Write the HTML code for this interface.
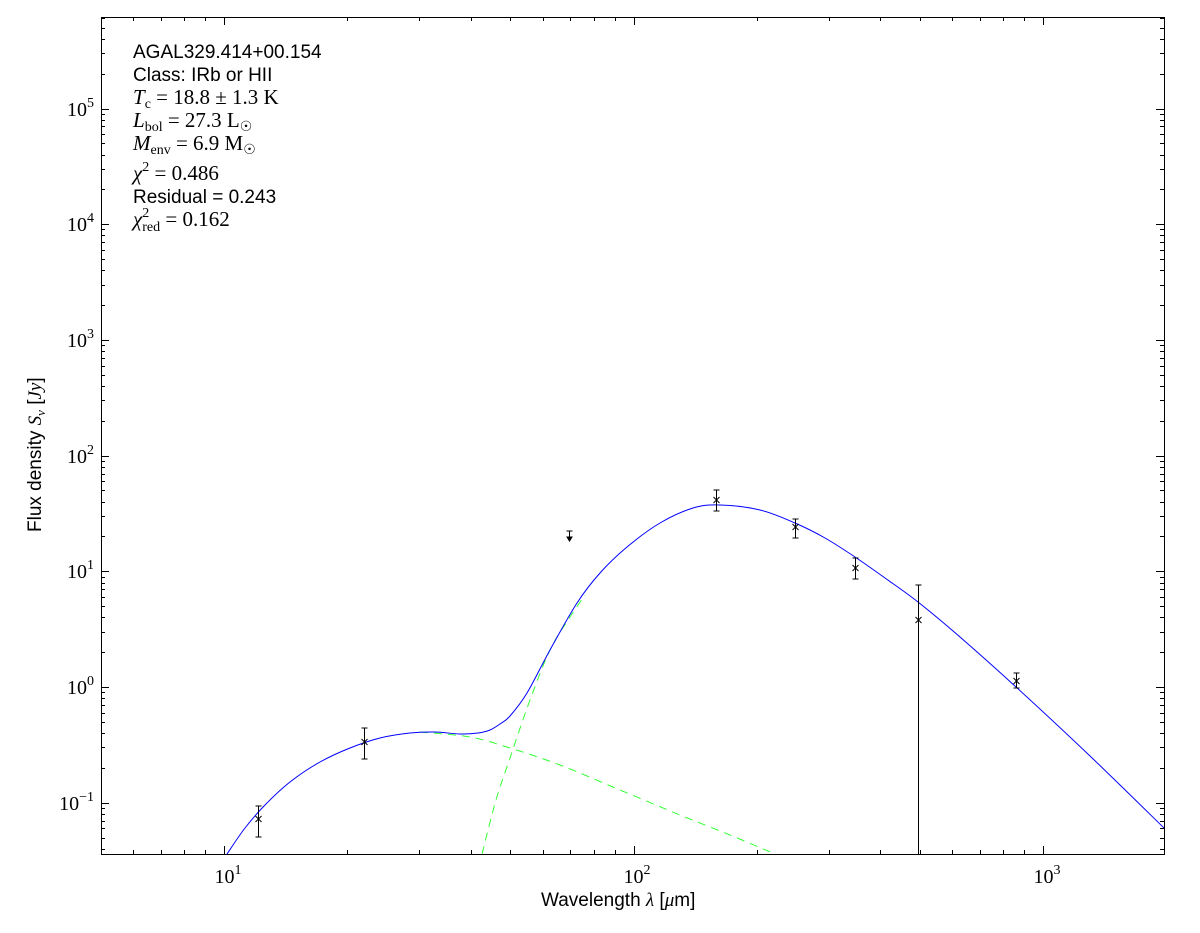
<!DOCTYPE html>
<html><head><style>body{margin:0;background:#fff}svg{display:block}</style></head>
<body>
<svg id="s" width="1200" height="933" xmlns="http://www.w3.org/2000/svg" font-family="Liberation Serif, serif">
<rect width="1200" height="933" fill="#fff"/>
<g id="ticks" stroke="#000" stroke-width="1"></g>
<g font-size="20" fill="#000" text-anchor="end">
<text x="94" y="116">10<tspan font-size="14" dy="-9">5</tspan></text>
<text x="94" y="231">10<tspan font-size="14" dy="-9">4</tspan></text>
<text x="94" y="347">10<tspan font-size="14" dy="-9">3</tspan></text>
<text x="94" y="463">10<tspan font-size="14" dy="-9">2</tspan></text>
<text x="94" y="578">10<tspan font-size="14" dy="-9">1</tspan></text>
<text x="94" y="694">10<tspan font-size="14" dy="-9">0</tspan></text>
<text x="94" y="810">10<tspan font-size="14" dy="-9">−1</tspan></text>
</g>
<g font-size="20" fill="#000" text-anchor="middle">
<text x="228" y="883">10<tspan font-size="14" dy="-9">1</tspan></text>
<text x="637" y="883">10<tspan font-size="14" dy="-9">2</tspan></text>
<text x="1047" y="883">10<tspan font-size="14" dy="-9">3</tspan></text>
</g>
<path id="g1" fill="none" stroke="#00ff00" stroke-opacity="0.8" stroke-dasharray="8,6" stroke-width="1"/>
<path id="g2" fill="none" stroke="#00ff00" stroke-opacity="0.8" stroke-dasharray="8,6" stroke-width="1"/>
<path id="b" fill="none" stroke="#0000ff" stroke-width="1"/>
<g stroke="#000" stroke-width="1" fill="none" id="data"></g>
<rect x="101.5" y="17.5" width="1063" height="837" fill="none" stroke="#000" stroke-width="1"/>
<g font-family="Liberation Sans, sans-serif" font-size="19" fill="#000">
<text x="133" y="58">AGAL329.414+00.154</text>
<text x="133" y="81">Class: IRb or HII</text>
<text x="133" y="203">Residual = 0.243</text>
<text x="541" y="906">Wavelength <tspan font-family="Liberation Serif, serif" font-style="italic">λ</tspan> [<tspan font-family="Liberation Serif, serif" font-style="italic">μ</tspan>m]</text>
<text transform="translate(41,532) rotate(-90)">Flux density <tspan font-family="Liberation Serif, serif" font-style="italic">S</tspan><tspan font-family="Liberation Serif, serif" font-style="italic" font-size="13" dy="4">ν</tspan><tspan dy="-4"> [</tspan><tspan font-family="Liberation Serif, serif" font-style="italic">Jy</tspan>]</text>
</g>
<g font-family="Liberation Serif, serif" font-size="21" fill="#000">
<text x="133" y="104"><tspan font-style="italic">T</tspan><tspan font-size="14" dy="4">c</tspan><tspan dy="-4"> = 18.8 ± 1.3 K</tspan></text>
<text x="133" y="127"><tspan font-style="italic">L</tspan><tspan font-size="14" dy="4">bol</tspan><tspan dy="-4"> = 27.3 L</tspan><tspan font-size="14" dy="4">☉</tspan></text>
<text x="133" y="150"><tspan font-style="italic">M</tspan><tspan font-size="14" dy="4">env</tspan><tspan dy="-4"> = 6.9 M</tspan><tspan font-size="14" dy="4">☉</tspan></text>
<text x="133" y="180"><tspan font-style="italic">χ</tspan><tspan font-size="14" dy="-9">2</tspan><tspan dy="9"> = 0.486</tspan></text>
<text x="133" y="226"><tspan font-style="italic">χ</tspan><tspan font-size="14" dy="-9">2</tspan><tspan font-size="14" dx="-7" dy="14">red</tspan><tspan dy="-5"> = 0.162</tspan></text>
</g>
</svg>
<script>
var t=document.getElementById('ticks'),d=document.getElementById('data');
var ns='http://www.w3.org/2000/svg';
function ln(g,x1,y1,x2,y2){var e=document.createElementNS(ns,'line');e.setAttribute('x1',x1);e.setAttribute('y1',y1);e.setAttribute('x2',x2);e.setAttribute('y2',y2);g.appendChild(e);}
var X0=224,DX=409.5,Y0=687,DY=115.7;
function xp(v){return X0+(Math.log10(v)-1)*DX;}
function yp(v){return Y0-Math.log10(v)*DY;}
for(var e=0;e<4;e++)for(var m=1;m<10;m++){var v=m*Math.pow(10,e);var x=xp(v);if(x<101||x>1164)continue;var L=m==1?8:4;x=Math.round(x)+0.5;ln(t,x,854,x,854-L);ln(t,x,17,x,17+L);}
for(var e=-2;e<6;e++)for(var m=1;m<10;m++){var v=m*Math.pow(10,e);var y=yp(v);if(y<17||y>854)continue;var L=m==1?8:4;y=Math.round(y)+0.5;ln(t,101,y,101+L,y);ln(t,1164,y,1164-L,y);}
function cr(p){var s='M'+p[0][0]+','+p[0][1];for(var i=0;i<p.length-1;i++){var p0=p[Math.max(0,i-1)],p1=p[i],p2=p[i+1],p3=p[Math.min(p.length-1,i+2)];s+=' C'+(p1[0]+(p2[0]-p0[0])/6)+','+(p1[1]+(p2[1]-p0[1])/6)+' '+(p2[0]-(p3[0]-p1[0])/6)+','+(p2[1]-(p3[1]-p1[1])/6)+' '+p2[0]+','+p2[1];}return s;}
document.getElementById('b').setAttribute('d',cr([[227,854],[245,828],[265,805],[290,782],[320,762],[350,748],[380,738],[410,733],[435,732],[460,734],[478,733],[490,730],[500,724],[510,716],[527,693],[550,650],[577,603],[600,573],[627,547],[660,523],[693,508],[720,505],[760,510],[795,523],[825,538],[855,557],[885,578],[918,602],[960,637],[1016,687],[1090,756],[1164,828]]));
document.getElementById('g1').setAttribute('d',cr([[420,732],[470,737],[510,748],[560,765],[620,790],[680,815],[730,835],[775,854]]));
document.getElementById('g2').setAttribute('d',cr([[482,854],[496,800],[510,758],[530,700],[550,650],[570,617],[585,595]]));
var pts=[[258,819,806,837],[364,742,728,759],[716,500,490,511],[795,527,519,538],[855,568,558,579],[918,620,585,854],[1016,681,673,688]];
pts.forEach(function(p){var x=p[0]+0.5;ln(d,x,p[2],x,p[3]);ln(d,x-3,p[2],x+3,p[2]);if(p[3]<854)ln(d,x-3,p[3],x+3,p[3]);ln(d,x-3,p[1]-3,x+3,p[1]+3);ln(d,x-3,p[1]+3,x+3,p[1]-3);});
ln(d,569.5,531,569.5,539);ln(d,566.5,531,572.5,531);
var a=document.createElementNS(ns,'polygon');a.setAttribute('points','567,537 572,537 569.5,541');a.setAttribute('fill','#000');d.appendChild(a);
</script>
</body></html>
